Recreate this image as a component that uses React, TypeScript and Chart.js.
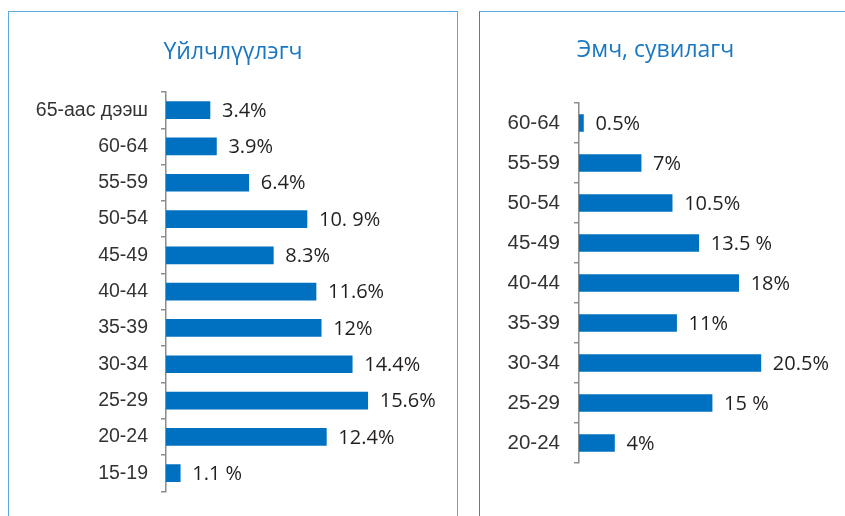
import React, { useEffect, useRef } from "react";
import { Chart, registerables } from "chart.js";
Chart.register(...registerables);

const leftTitle = "Үйлчлүүлэгч";
const leftCategories = ["65-аас дээш", "60-64", "55-59", "50-54", "45-49", "40-44", "35-39", "30-34", "25-29", "20-24", "15-19"];
const leftValues = [3.4, 3.9, 6.4, 10.9, 8.3, 11.6, 12, 14.4, 15.6, 12.4, 1.1];
const leftValueLabels = ["3.4%", "3.9%", "6.4%", "10. 9%", "8.3%", "11.6%", "12%", "14.4%", "15.6%", "12.4%", "1.1 %"];

const rightTitle = "Эмч, сувилагч";
const rightCategories = ["60-64", "55-59", "50-54", "45-49", "40-44", "35-39", "30-34", "25-29", "20-24"];
const rightValues = [0.5, 7, 10.5, 13.5, 18, 11, 20.5, 15, 4];
const rightValueLabels = ["0.5%", "7%", "10.5%", "13.5 %", "18%", "11%", "20.5%", "15 %", "4%"];

type PanelProps = {
  title: string;
  titleX: number;
  titleY: number;
  categories: string[];
  values: number[];
  valueLabels: string[];
  width: number;
  height: number;
  axisW: number;
  xMax: number;
  padRight: number;
  padTop: number;
  padBottom: number;
  tickSize: number;
  tickPadding: number;
};

function BarPanel(p: PanelProps) {
  const ref = useRef<HTMLCanvasElement | null>(null);
  useEffect(() => {
    if (!ref.current) return;
    const labelPlugin = {
      id: "valueLabels",
      afterDatasetsDraw(chart: any) {
        const ctx = chart.ctx;
        const meta = chart.getDatasetMeta(0);
        ctx.save();
        ctx.font = "20px 'Open Sans'";
        ctx.fillStyle = "#231f20";
        ctx.textAlign = "left";
        ctx.textBaseline = "middle";
        meta.data.forEach((bar: any, i: number) => {
          ctx.fillText(p.valueLabels[i], bar.x + 12, bar.y + 1);
        });
        ctx.restore();
      },
    };
    const titlePlugin = {
      id: "panelTitle",
      afterDraw(chart: any) {
        const ctx = chart.ctx;
        ctx.save();
        ctx.font = "23px 'Open Sans'";
        ctx.fillStyle = "#1a78c2";
        ctx.textAlign = "center";
        ctx.textBaseline = "middle";
        ctx.fillText(p.title, p.titleX, p.titleY);
        ctx.restore();
      },
    };
    const chart = new Chart(ref.current, {
      type: "bar",
      data: {
        labels: p.categories,
        datasets: [
          {
            data: p.values,
            backgroundColor: "#0070c0",
            borderWidth: 0,
            barThickness: 17,
          },
        ],
      },
      options: {
        indexAxis: "y",
        animation: false,
        responsive: false,
        maintainAspectRatio: false,
        layout: { padding: { left: 0, right: p.padRight, top: p.padTop, bottom: p.padBottom } },
        plugins: { legend: { display: false }, tooltip: { enabled: false }, title: { display: false } },
        scales: {
          x: { display: false, min: 0, max: p.xMax },
          y: {
            afterFit: (s: any) => {
              s.width = p.axisW;
            },
            grid: { drawOnChartArea: false, tickLength: 5, color: "#8c8c8c", lineWidth: 1.5 },
            border: { color: "#8c8c8c", width: 1.5 },
            ticks: {
              font: { family: "'Liberation Sans', Arial, sans-serif", size: p.tickSize, weight: "normal" },
              color: "#333333",
              padding: p.tickPadding,
            },
          },
        },
      } as any,
      plugins: [labelPlugin, titlePlugin],
    });
    return () => chart.destroy();
  }, []);
  return <canvas ref={ref} width={p.width} height={p.height} style={{ display: "block", width: p.width, height: p.height }} />;
}

export default function App() {
  return (
    <div style={{ position: "absolute", left: 0, top: 0, width: 845, height: 516, overflow: "hidden", background: "#fff" }}>
      <div
        style={{
          position: "absolute",
          left: 8,
          top: 11,
          width: 448,
          height: 520,
          border: "1px solid #5aaae2",
        }}
      >
        <BarPanel
          title={leftTitle}
          titleX={224}
          titleY={40}
          categories={leftCategories}
          values={leftValues}
          valueLabels={leftValueLabels}
          width={448}
          height={504}
          axisW={157}
          xMax={22}
          padRight={6.5}
          padTop={80}
          padBottom={18}
          tickSize={19.5}
          tickPadding={13}
        />
      </div>
      <div
        style={{
          position: "absolute",
          left: 479,
          top: 11,
          width: 400,
          height: 520,
          borderTop: "1px solid #5aaae2",
          borderLeft: "1px solid #2f86c9",
        }}
      >
        <BarPanel
          title={rightTitle}
          titleX={175.5}
          titleY={38}
          categories={rightCategories}
          values={rightValues}
          valueLabels={rightValueLabels}
          width={365}
          height={504}
          axisW={99}
          xMax={28}
          padRight={17.6}
          padTop={91}
          padBottom={53}
          tickSize={20.5}
          tickPadding={14}
        />
      </div>
    </div>
  );
}
